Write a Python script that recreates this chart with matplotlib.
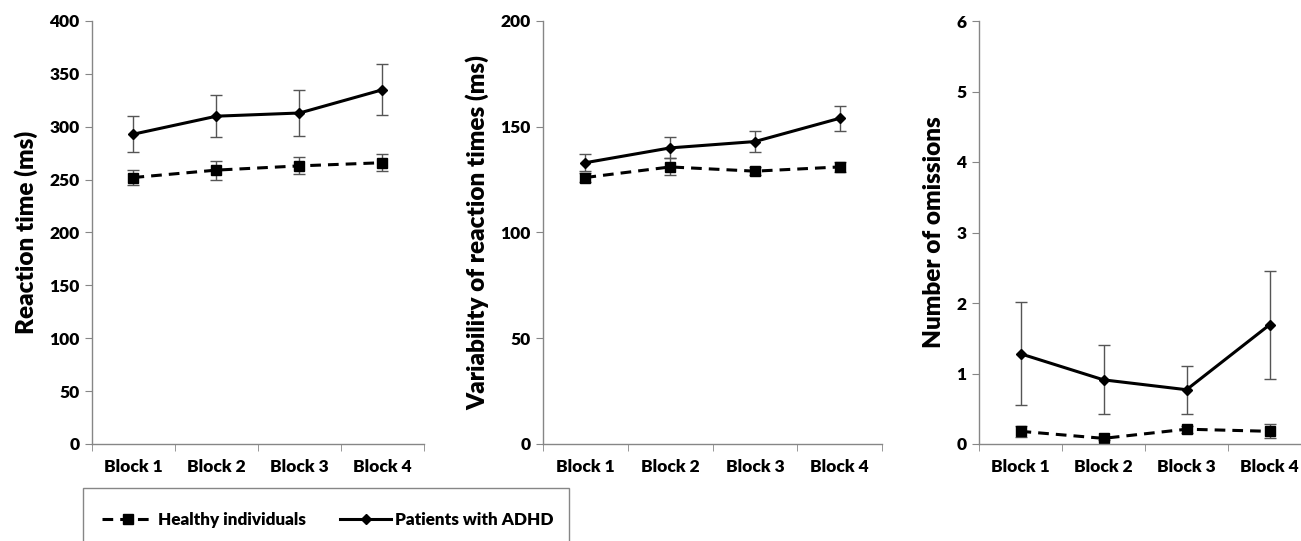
import numpy as np
import matplotlib.pyplot as plt
from matplotlib.lines import Line2D
from matplotlib.patches import Rectangle

plt.rcParams['font.family'] = ['Lato', 'DejaVu Sans']
plt.rcParams['font.weight'] = 'heavy'

bloques = ['Block 1', 'Block 2', 'Block 3', 'Block 4']

# Tiempo de reacción (ms)
rt_sanos = [252, 259, 263, 266]
rt_sanos_err = [7, 9, 8, 8]
rt_tdah = [293, 310, 313, 335]
rt_tdah_err = [17, 20, 22, 24]

# Variabilidad del tiempo de reacción (ms)
var_sanos = [126, 131, 129, 131]
var_sanos_err = [2, 4, 2, 2.5]
var_tdah = [133, 140, 143, 154]
var_tdah_err = [4, 5, 5, 6]

# Número de omisiones
om_sanos = [0.18, 0.08, 0.21, 0.18]
om_sanos_err = [0.08, 0.02, 0.05, 0.1]
om_tdah = [1.28, 0.91, 0.77, 1.69]
om_tdah_err = [0.73, 0.49, 0.34, 0.77]

paneles = [
    ('Reaction time (ms)', rt_sanos, rt_sanos_err, rt_tdah, rt_tdah_err, 400, 50),
    ('Variability of reaction times (ms)', var_sanos, var_sanos_err, var_tdah, var_tdah_err, 200, 50),
    ('Number of omissions', om_sanos, om_sanos_err, om_tdah, om_tdah_err, 6, 1),
]
posiciones = [(0.0707, 0.2552), (0.4174, 0.2606), (0.7525, 0.2552)]

W, H = 1301, 541
fig = plt.figure(figsize=(W / 100, H / 100), dpi=100)
gris = '#868686'
x = np.arange(1, 5)
guiones = (0, (3.5, 2.3))

for (ylabel, sanos, sanos_e, tdah, tdah_e, ymax, paso), (left, width) in zip(paneles, posiciones):
    ax = fig.add_axes([left, 1 - 444 / H, width, (444 - 21) / H])
    ax.errorbar(x, tdah, yerr=tdah_e, fmt='none', ecolor='#555555', elinewidth=1, capsize=4, capthick=1)
    ax.errorbar(x, sanos, yerr=sanos_e, fmt='none', ecolor='#555555', elinewidth=1, capsize=4, capthick=1)
    ax.plot(x, tdah, color='black', linewidth=2.2, marker='D', markersize=5)
    ax.plot(x, sanos, color='black', linewidth=2.2, linestyle=guiones, marker='s', markersize=7.5)
    ax.set_xlim(0.5, 4.5)
    ax.set_ylim(0, ymax)
    ax.set_yticks(np.arange(0, ymax + paso / 2, paso))
    ax.set_xticks(x)
    ax.set_xticklabels(bloques)
    ax.set_xticks(np.arange(0.5, 4.6, 1), minor=True)
    ax.tick_params(axis='x', which='major', length=0, pad=11, labelsize=12.5)
    ax.tick_params(axis='x', which='minor', length=5, color=gris)
    ax.tick_params(axis='y', length=5, color=gris, labelsize=12.5, pad=4)
    for s in ['top', 'right']:
        ax.spines[s].set_visible(False)
    for s in ['left', 'bottom']:
        ax.spines[s].set_color(gris)
        ax.spines[s].set_linewidth(1)
    ax.set_ylabel(ylabel, fontsize=17.5, fontweight='heavy', labelpad=8)

# Leyenda
fig.patches.append(Rectangle((83 / W, -0.05), (569 - 83) / W, 0.05 + 1 - 488 / H,
                             transform=fig.transFigure, fill=False, edgecolor=gris, linewidth=1))
handles = [
    Line2D([], [], color='black', linewidth=2.2, linestyle=guiones, marker='s', markersize=7.5),
    Line2D([], [], color='black', linewidth=2.2, marker='D', markersize=5),
]
fig.legend(handles, ['Healthy individuals', 'Patients with ADHD'], loc='center left',
           bbox_to_anchor=(87 / W, 1 - 520 / H), ncol=2, frameon=False, fontsize=12.3,
           handlelength=3.0, columnspacing=2.0, handletextpad=0.25)

plt.savefig('out.png', dpi=100)
